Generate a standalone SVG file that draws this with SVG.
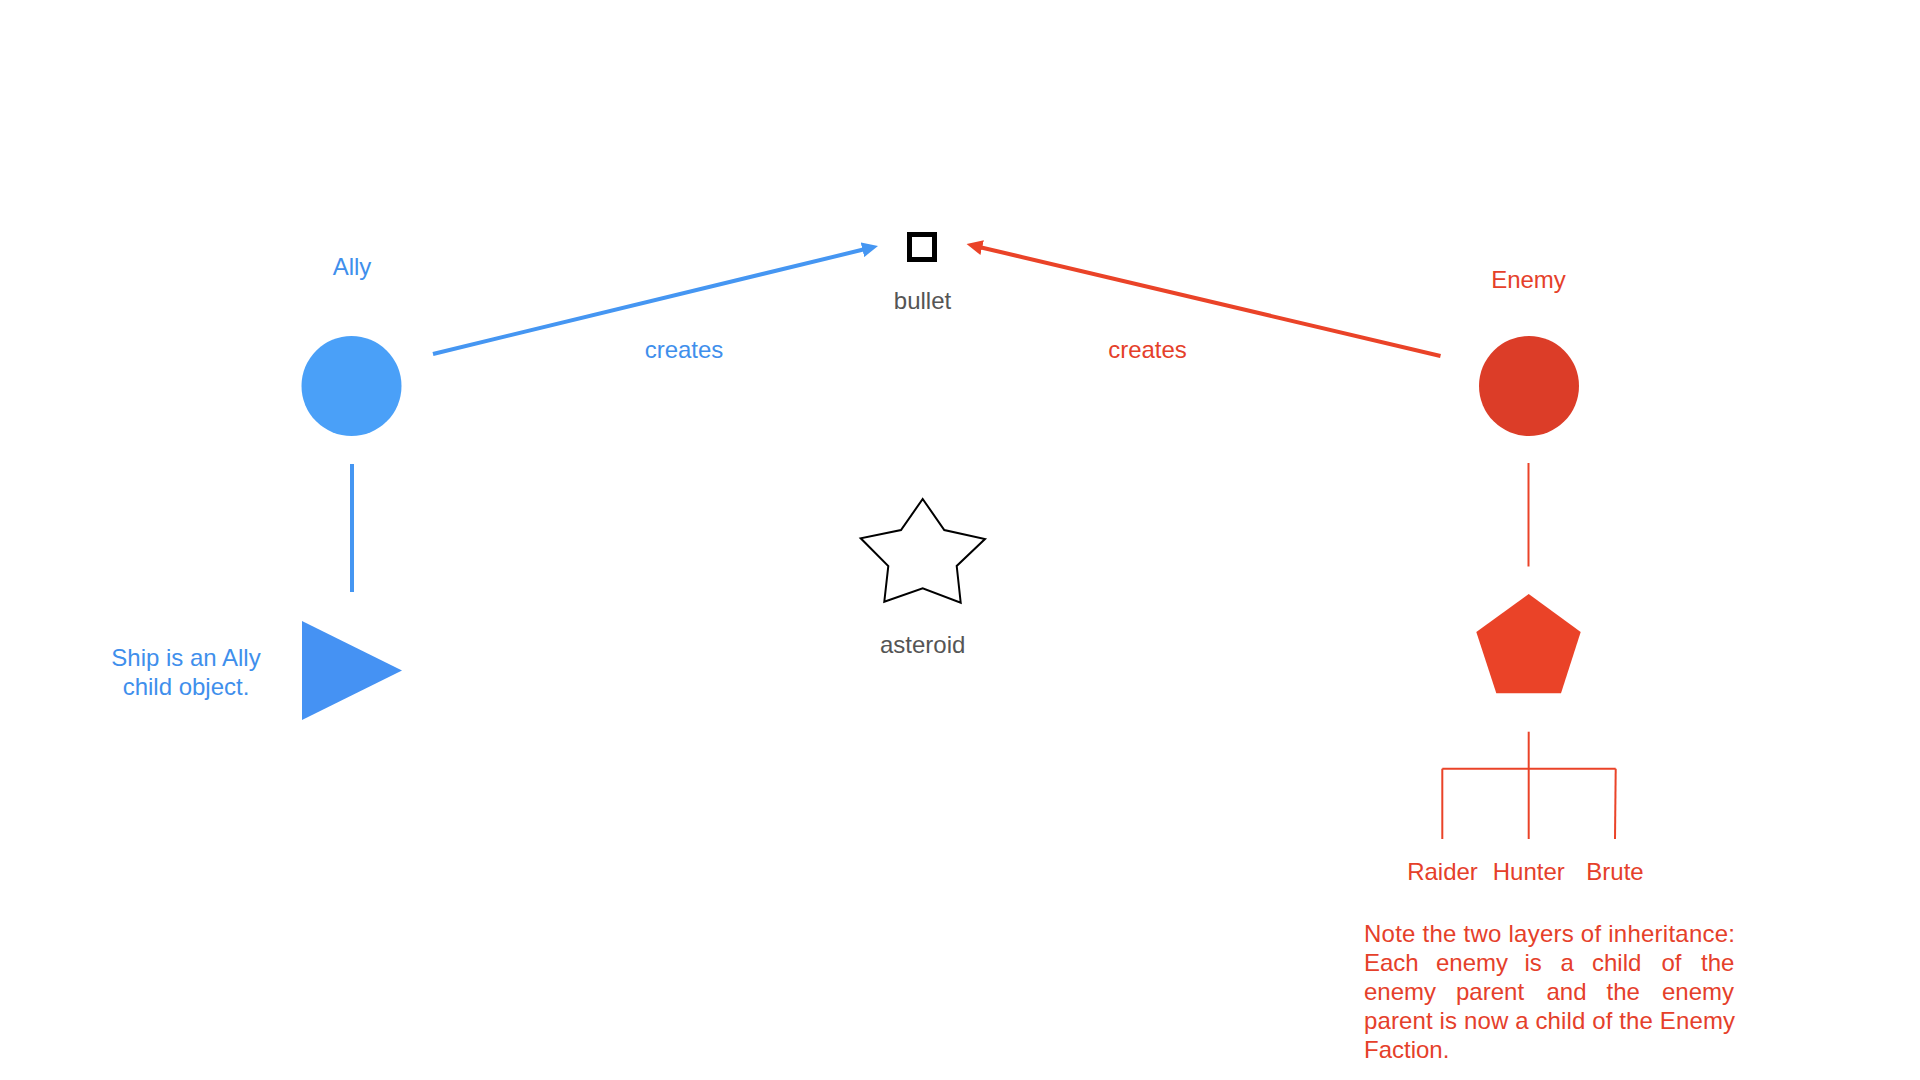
<svg xmlns="http://www.w3.org/2000/svg" width="1920" height="1080" viewBox="0 0 1920 1080">
<style>
  text { font-family: "Liberation Sans", Arial, Helvetica, sans-serif; font-size: 24px; }
  .blue { fill: #3F8FEC; }
  .red { fill: #E5402A; }
  .gray { fill: #555555; }
  .mid { text-anchor: middle; }
  .bl { stroke: #4596F2; stroke-width: 4; fill: none; }
  .rl { stroke: #EA4328; stroke-width: 4; fill: none; }
  .rt { stroke: #EA4328; stroke-width: 2; fill: none; }
</style>
<defs>
  <marker id="arrBlue" markerUnits="userSpaceOnUse" markerWidth="16" markerHeight="16" refX="2" refY="7.5" orient="auto" viewBox="0 0 16 15">
    <path d="M0,0 L16,7.5 L0,15 z" fill="#4596F2"/>
  </marker>
  <marker id="arrRed" markerUnits="userSpaceOnUse" markerWidth="16" markerHeight="16" refX="2" refY="7.5" orient="auto" viewBox="0 0 16 15">
    <path d="M0,0 L16,7.5 L0,15 z" fill="#EA4328"/>
  </marker>
</defs>
<rect x="0" y="0" width="1920" height="1080" fill="#FFFFFF"/>

<g id="connectors">
  <line class="bl" x1="433" y1="354" x2="864.4" y2="249.3" marker-end="url(#arrBlue)"/>
  <line class="rl" x1="1440.5" y1="356" x2="980.2" y2="247.2" marker-end="url(#arrRed)"/>
  <line class="bl" x1="352" y1="464" x2="352" y2="592"/>
  <line class="rt" x1="1528.5" y1="463" x2="1528.5" y2="566.5"/>
  <line class="rt" x1="1528.7" y1="731.7" x2="1528.7" y2="839"/>
  <line class="rt" x1="1442.3" y1="768.7" x2="1615.7" y2="768.7"/>
  <line class="rt" x1="1442.3" y1="768.7" x2="1442.3" y2="839"/>
  <line class="rt" x1="1615.7" y1="768.7" x2="1615" y2="839"/>
  <text class="blue mid" x="684" y="358">creates</text>
  <text class="red mid" x="1147.5" y="358">creates</text>
</g>

<g id="ally">
  <circle cx="351.5" cy="386" r="50" fill="#4AA0F8"/>
  <text class="blue mid" x="352" y="274.5">Ally</text>
</g>

<g id="ship">
  <polygon points="302,621 402,670.5 302,720" fill="#4592F3"/>
  <text class="blue mid" x="186" y="665.5">Ship is an Ally</text>
  <text class="blue mid" x="186" y="694.5">child object.</text>
</g>

<g id="bullet">
  <rect x="909.5" y="234.5" width="25" height="25" fill="none" stroke="#000000" stroke-width="5"/>
  <text class="gray mid" x="922.5" y="309">bullet</text>
</g>

<g id="asteroid">
  <polygon points="922.7,499 944.3,530 985,539 956.7,566 960.7,602.7 922.7,588.3 884.3,601.7 888.3,566 860.7,538.3 901,530" fill="none" stroke="#000000" stroke-width="2"/>
  <text class="gray mid" x="922.7" y="652.5">asteroid</text>
</g>

<g id="enemy">
  <circle cx="1529" cy="386" r="50" fill="#DC3D28"/>
  <text class="red mid" x="1528.5" y="287.5">Enemy</text>
</g>

<g id="enemy-parent">
  <polygon points="1528.7,594 1580.7,632 1561,693.3 1496.3,693.3 1476.3,632" fill="#EA4328"/>
</g>

<g id="raider">
  <text class="red mid" x="1442.5" y="879.5">Raider</text>
</g>
<g id="hunter">
  <text class="red mid" x="1528.8" y="879.5">Hunter</text>
</g>
<g id="brute">
  <text class="red mid" x="1615" y="879.5">Brute</text>
</g>

<g id="note">
  <text class="red" x="1364" y="941.5" textLength="371" lengthAdjust="spacing">Note the two layers of inheritance:</text>
  <text class="red" y="970.5"><tspan x="1364">Each</tspan><tspan x="1436">enemy</tspan><tspan x="1524.5">is</tspan><tspan x="1560.5">a</tspan><tspan x="1592">child</tspan><tspan x="1661.5">of</tspan><tspan x="1701">the</tspan></text>
  <text class="red" y="999.5"><tspan x="1364">enemy</tspan><tspan x="1456">parent</tspan><tspan x="1546.5">and</tspan><tspan x="1606.5">the</tspan><tspan x="1662">enemy</tspan></text>
  <text class="red" x="1364" y="1028.5" textLength="371" lengthAdjust="spacing">parent is now a child of the Enemy</text>
  <text class="red" x="1364" y="1057.5">Faction.</text>
</g>
</svg>
